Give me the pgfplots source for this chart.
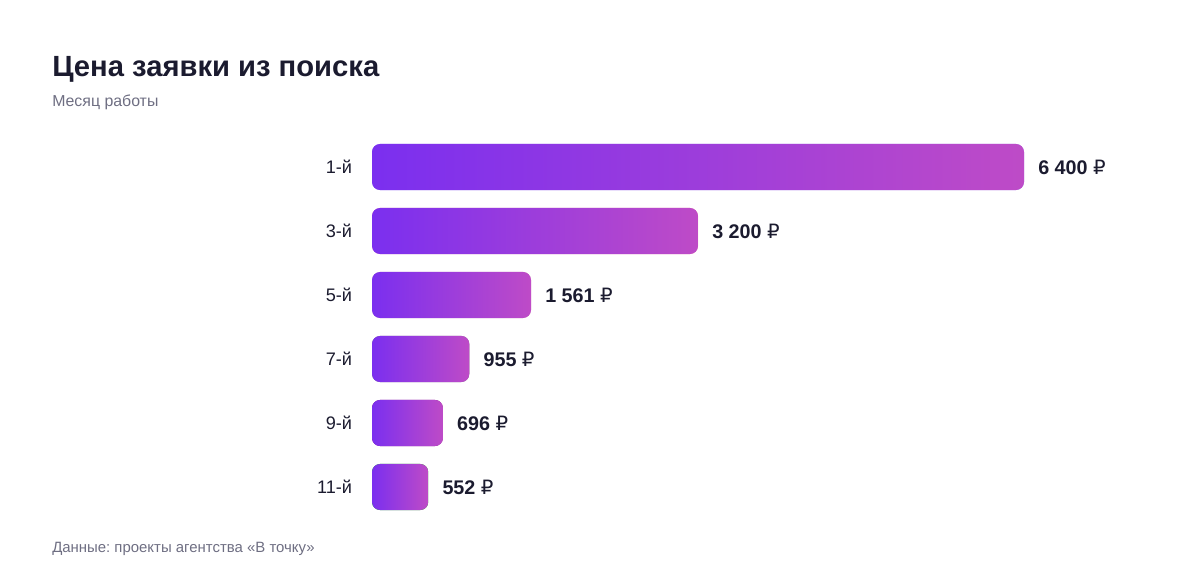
\documentclass[border=0pt]{standalone}
\usepackage{pgfplots}
\pgfplotsset{compat=1.18}
\usepackage{fontspec}
\setmainfont{Liberation Sans}
\newfontfamily\rub{DejaVu Sans}
\definecolor{barL}{HTML}{7B2FEF}
\definecolor{barR}{HTML}{BE4BC7}
\definecolor{ink}{HTML}{1B1B2F}
\definecolor{muted}{HTML}{6E6E82}
\begin{document}
\begin{tikzpicture}
\path[use as bounding box] (0,0) rectangle (900pt,438pt);
\node[anchor=base west, inner sep=0pt, text=ink, font=\bfseries\fontsize{21.9}{26}\selectfont] at (39pt,380.25pt) {Цена заявки из поиска};
\node[anchor=base west, inner sep=0pt, text=muted, font=\fontsize{11.9}{14}\selectfont] at (39pt,357.75pt) {Месяц работы};
\node[anchor=base west, inner sep=0pt, text=muted, font=\fontsize{11.2}{13}\selectfont] at (39pt,23.25pt) {Данные:\ проекты агентства «В~точку»};
\begin{axis}[
  at={(279pt,48.75pt)}, anchor=south west,
  scale only axis, width=489pt, height=288pt,
  xmin=0, xmax=6400, ymin=-0.5, ymax=5.5,
  xbar, bar width=0.72, bar shift=0pt,
  axis line style={draw=none}, tick style={draw=none},
  xtick=\empty, ytick={0,1,2,3,4,5},
  yticklabels={11-й,9-й,7-й,5-й,3-й,1-й},
  yticklabel style={font=\fontsize{13.6}{16}\selectfont, text=ink, inner sep=0pt, xshift=-10.5pt},
  clip=false,
  point meta=x,
  nodes near coords={\pgfmathprintnumber[1000 sep={\ }, assume math mode=true, fixed, precision=0]{\pgfplotspointmeta}\ {\rub\mdseries ₽}},
  every node near coord/.append style={font=\bfseries\fontsize{14.8}{17}\selectfont, text=ink, anchor=west, inner sep=0pt, xshift=10.5pt},
  every axis plot/.append style={draw=none, left color=barL, right color=barR, rounded corners=6pt, bar shift=0pt},
]
\addplot coordinates {(6400,5)};
\addplot coordinates {(3200,4)};
\addplot coordinates {(1561,3)};
\addplot coordinates {(955,2)};
\addplot coordinates {(696,1)};
\addplot coordinates {(552,0)};
\end{axis}
\end{tikzpicture}
\end{document}
